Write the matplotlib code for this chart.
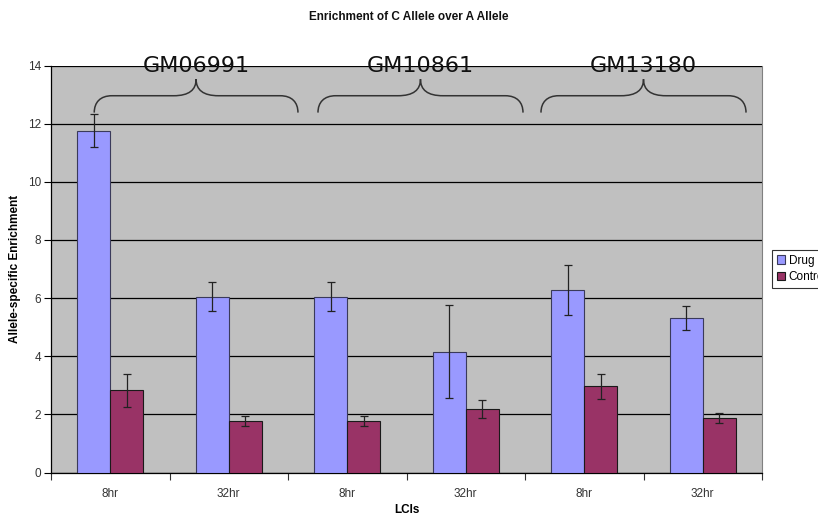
import numpy as np
import matplotlib
matplotlib.use("Agg")
import matplotlib.pyplot as plt
from matplotlib.path import Path
from matplotlib.patches import PathPatch

# ---- data ----
timepoints = ["8hr", "32hr", "8hr", "32hr", "8hr", "32hr"]
cell_lines = ["GM06991", "GM10861", "GM13180"]
drug = [11.75, 6.05, 6.05, 4.15, 6.28, 5.32]
drug_err = [0.57, 0.49, 0.49, 1.60, 0.85, 0.41]
control = [2.83, 1.76, 1.77, 2.18, 2.96, 1.88]
control_err = [0.57, 0.17, 0.17, 0.30, 0.44, 0.17]
y_ticks = [0, 2, 4, 6, 8, 10, 12, 14]

NARROW = ["Liberation Sans Narrow", "Liberation Sans", "DejaVu Sans"]
plt.rcParams["font.family"] = NARROW

fig = plt.figure(figsize=(8.18, 5.16), dpi=100)
fig.patch.set_facecolor("white")
ax = fig.add_axes([51 / 818, 1 - 472.5 / 516, (762 - 51) / 818, (472.5 - 65.5) / 516])
ax.set_facecolor("#C0C0C0")

x = np.arange(len(timepoints))
w = 0.28
ax.bar(x - w / 2, drug, w, color="#9999FF", edgecolor="#3a3a5a", linewidth=0.8,
       label="Drug", zorder=3)
ax.bar(x + w / 2, control, w, color="#993366", edgecolor="#1a1a1a", linewidth=0.8,
       label="Control", zorder=3)
ax.errorbar(x - w / 2, drug, yerr=drug_err, fmt="none", ecolor="#222222",
            elinewidth=0.9, capsize=3, capthick=0.9, zorder=4)
ax.errorbar(x + w / 2, control, yerr=control_err, fmt="none", ecolor="#222222",
            elinewidth=0.9, capsize=3, capthick=0.9, zorder=4)

ax.set_xlim(-0.5, len(timepoints) - 0.5)
ax.set_ylim(0, 14)
ax.set_yticks(y_ticks)
ax.set_yticklabels([str(v) for v in y_ticks])
ax.yaxis.grid(True, color="black", linewidth=0.9, zorder=1)
ax.set_axisbelow(True)

ax.set_xticks(x)
ax.set_xticklabels(timepoints)
ax.set_xticks(np.arange(-0.5, len(timepoints)), minor=True)
ax.tick_params(axis="x", which="major", length=0, pad=11, labelsize=8.5,
               labelcolor="#333333")
ax.tick_params(axis="x", which="minor", length=5, width=0.8, color="#333333")
ax.tick_params(axis="y", length=5, width=0.8, pad=2, labelsize=8.5,
               labelcolor="#333333")

for side in ("left", "bottom"):
    ax.spines[side].set_color("black")
    ax.spines[side].set_linewidth(0.9)
ax.spines["top"].set_visible(False)
ax.spines["right"].set_color("#808080")
ax.spines["right"].set_linewidth(0.8)

ax.set_ylabel("Allele-specific Enrichment", fontsize=8.5, fontweight="bold",
              labelpad=5)
ax.set_xlabel("LCIs", fontsize=8.5, fontweight="bold", labelpad=3)

fig.text(0.5, 1 - 17 / 516, "Enrichment of C Allele over A Allele", ha="center",
         va="center", fontsize=8.5, fontweight="bold", color="#111111")

# ---- curly braces grouping the cell lines ----
brace_spans = [(-0.135, 1.584), (1.753, 3.483), (3.635, 5.365)]
y_end, y_bar, y_tip = 12.38, 12.96, 13.53
rx, cx = 0.15, 0.19
for (left, right), name in zip(brace_spans, cell_lines):
    mid = (left + right) / 2
    verts = [
        (left, y_end),
        (left, y_end + 0.35), (left + 0.05, y_bar), (left + rx, y_bar),
        (mid - cx, y_bar),
        (mid - 0.06, y_bar), (mid, y_bar + 0.2), (mid, y_tip),
        (mid, y_bar + 0.2), (mid + 0.06, y_bar), (mid + cx, y_bar),
        (right - rx, y_bar),
        (right - 0.05, y_bar), (right, y_end + 0.35), (right, y_end),
    ]
    codes = [Path.MOVETO,
             Path.CURVE4, Path.CURVE4, Path.CURVE4,
             Path.LINETO,
             Path.CURVE4, Path.CURVE4, Path.CURVE4,
             Path.CURVE4, Path.CURVE4, Path.CURVE4,
             Path.LINETO,
             Path.CURVE4, Path.CURVE4, Path.CURVE4]
    ax.add_patch(PathPatch(Path(verts, codes), facecolor="none", edgecolor="#333333",
                           linewidth=1.1, clip_on=False, zorder=5))
    ax.text(mid, 13.98, name, ha="center", va="center", fontsize=16,
            family=["DejaVu Sans"], color="#111111", clip_on=False, zorder=6)

leg = fig.legend(loc="upper left", bbox_to_anchor=(772 / 818, 1 - 250 / 516),
                 frameon=True, fancybox=False, fontsize=8.5, handlelength=0.7,
                 handleheight=0.7, handletextpad=0.3, borderpad=0.4,
                 labelspacing=0.35, borderaxespad=0)
leg.get_frame().set_edgecolor("black")
leg.get_frame().set_linewidth(0.8)

fig.savefig("out.png", dpi=100)
